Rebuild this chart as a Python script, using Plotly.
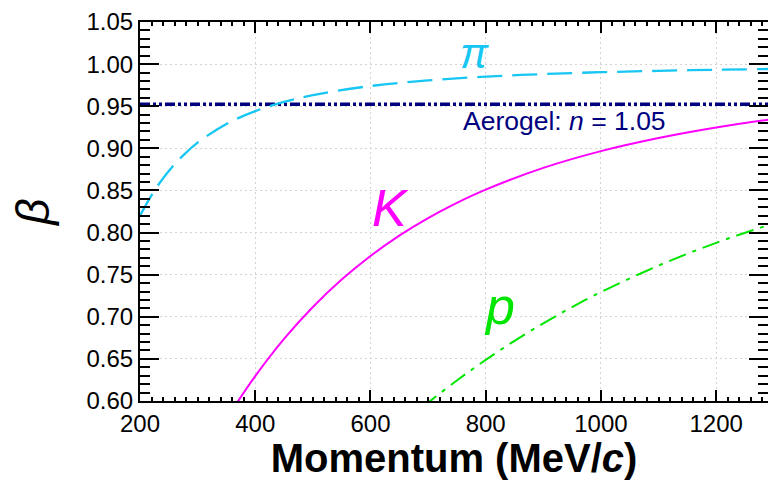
import plotly.graph_objects as go

# momentum (MeV/c) and beta values
pi_p = [200, 225, 250, 275, 300, 350, 400, 450, 500, 600, 700, 800, 900, 1000, 1100, 1200, 1300]
pi_beta = [0.8201, 0.8498, 0.8731, 0.8917, 0.9067, 0.9289, 0.9442, 0.9551, 0.9632, 0.9740,
           0.9807, 0.9851, 0.9882, 0.9904, 0.9920, 0.9933, 0.9943]

k_p = [360, 400, 450, 500, 550, 600, 650, 700, 750, 800, 900, 1000, 1100, 1200, 1300]
k_beta = [0.5892, 0.6295, 0.6737, 0.7116, 0.7442, 0.7722, 0.7964, 0.8172, 0.8353, 0.8510,
          0.8768, 0.8967, 0.9123, 0.9248, 0.9349]

p_p = [690, 700, 750, 800, 850, 900, 950, 1000, 1100, 1200, 1300]
p_beta = [0.5924, 0.5980, 0.6244, 0.6488, 0.6714, 0.6922, 0.7115, 0.7293, 0.7608, 0.7878, 0.8109]

aerogel_p = [200, 1300]
aerogel_beta = [0.9524, 0.9524]

labels = {"pi": "<i>π</i>", "K": "<i>K</i>", "p": "<i>p</i>", "aerogel": "Aerogel: <i>n</i> = 1.05"}

FONT = "Liberation Sans, Arial, sans-serif"
PI_C, K_C, P_C, AG_C = "#17c6f2", "#ff00ff", "#00e600", "#00007f"

fig = go.Figure()
fig.add_trace(go.Scatter(x=aerogel_p, y=aerogel_beta, mode="lines",
                         line=dict(color=AG_C, width=3.5, dash="10px,3px,3px,3px,3px,3px")))
fig.add_trace(go.Scatter(x=pi_p, y=pi_beta, mode="lines", line_shape="spline",
                         line=dict(color=PI_C, width=2.3, dash="25px,10px")))
fig.add_trace(go.Scatter(x=k_p, y=k_beta, mode="lines", line_shape="spline",
                         line=dict(color=K_C, width=2)))
fig.add_trace(go.Scatter(x=p_p, y=p_beta, mode="lines", line_shape="spline",
                         line=dict(color=P_C, width=2, dash="18px,7px,4px,7px")))

fig.add_annotation(x=781, y=1.013, text=labels["pi"], showarrow=False,
                   font=dict(family=FONT, size=42, color=PI_C))
fig.add_annotation(x=634, y=0.829, text=labels["K"], showarrow=False,
                   font=dict(family=FONT, size=52, color=K_C))
fig.add_annotation(x=824, y=0.713, text=labels["p"], showarrow=False,
                   font=dict(family=FONT, size=52, color=P_C))
fig.add_annotation(x=937, y=0.933, text=labels["aerogel"], showarrow=False,
                   font=dict(family=FONT, size=26.5, color=AG_C))

axis_common = dict(showline=True, linecolor="black", linewidth=2, mirror="allticks",
                   ticks="inside", tickcolor="black", tickwidth=1.5, automargin=False,
                   showgrid=True, gridcolor="#d4d4d4", griddash="2px,3px", gridwidth=1.2,
                   zeroline=False, tickfont=dict(family=FONT, size=24, color="black"))

fig.update_xaxes(range=[200, 1290], dtick=200, tick0=200, ticklen=11,
                 minor=dict(dtick=20, ticklen=4, ticks="inside", tickcolor="black", showgrid=False),
                 title=dict(text="<b>Momentum (MeV/<i>c</i>)</b>", standoff=6,
                            font=dict(family=FONT, size=40, color="black")),
                 **axis_common)
fig.update_yaxes(range=[0.6, 1.05], dtick=0.05, tick0=0.6, ticklen=19, tickformat=".2f",
                 minor=dict(dtick=0.01, ticklen=10, ticks="inside", tickcolor="black", showgrid=False),
                 title=dict(text="<i>β</i>", standoff=22,
                            font=dict(family=FONT, size=46, color="black")),
                 **axis_common)

fig.update_layout(width=768, height=480, margin=dict(l=140, r=0, t=22, b=79),
                  plot_bgcolor="white", paper_bgcolor="white", showlegend=False)

fig.write_html("out.html", config={"displayModeBar": False},
               post_script="document.body.style.margin='0';document.body.style.overflow='hidden';")
